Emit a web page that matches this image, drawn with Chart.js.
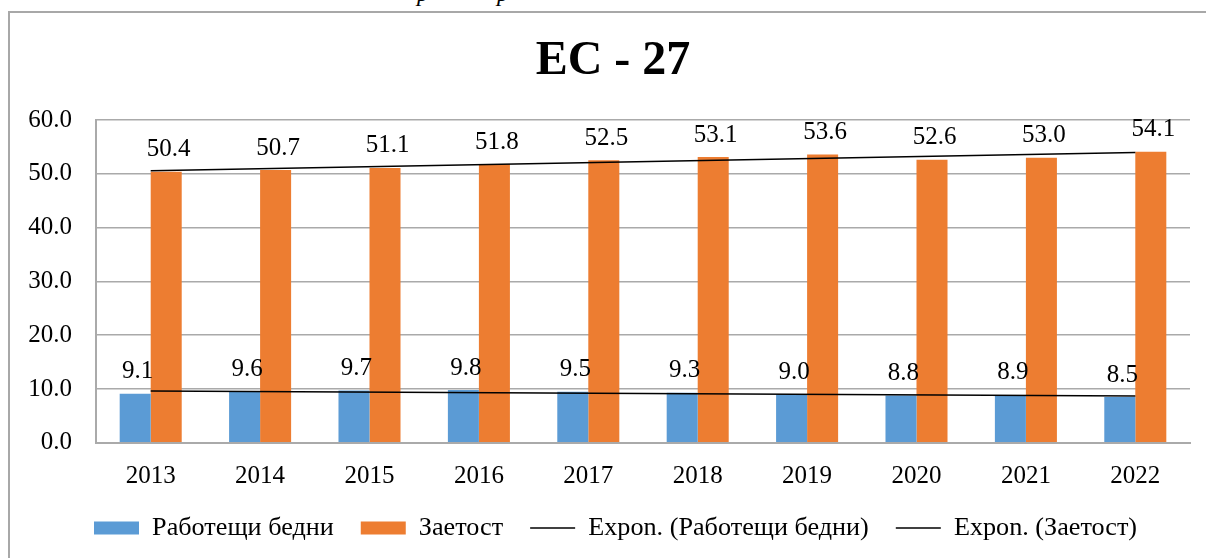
<!DOCTYPE html>
<html><head><meta charset="utf-8">
<script src="https://cdn.jsdelivr.net/npm/chart.js@4/dist/chart.umd.min.js"></script>
<style>
html,body{margin:0;padding:0;background:#fff;width:1206px;height:558px;overflow:hidden;}
#frame{position:absolute;left:8px;top:11px;width:1400px;height:700px;border-top:2px solid #a8a8a8;border-left:2px solid #a8a8a8;}
.cut{position:absolute;font-family:'Liberation Serif','Times New Roman',serif;font-style:italic;font-size:24px;line-height:24px;top:-19px;color:#000;}
#wrap{position:absolute;left:0;top:0;width:1206px;height:558px;}
</style></head><body>
<div id="frame"></div>
<span class="cut" style="left:417px">р</span><span class="cut" style="left:497px">р</span>
<div id="wrap"><canvas id="c" width="1206" height="558"></canvas></div>
<script>
// ---- data ----
const years = ['2013','2014','2015','2016','2017','2018','2019','2020','2021','2022'];
const poorWorkers = [9.1, 9.6, 9.7, 9.8, 9.5, 9.3, 9.0, 8.8, 8.9, 8.5];
const employment = [50.4, 50.7, 51.1, 51.8, 52.5, 53.1, 53.6, 52.6, 53.0, 54.1];
// trend lines at first and last category
const poorTrend = [9.63, null, null, null, null, null, null, null, null, 8.70];
const employmentTrend = [50.55, null, null, null, null, null, null, null, null, 53.98];
const seriesNames = ['Работещи бедни', 'Заетост', 'Expon. (Работещи бедни)', 'Expon. (Заетост)'];
const chartTitle = 'ЕС - 27';
const yMin = 0, yMax = 60, yStep = 10;

const FONT = "'Liberation Serif', 'Times New Roman', serif";
const FS = 25;
const LFS = 26.2;
const GRID = '#aaaaaa';
const BLUE = '#5B9BD5', ORANGE = '#ED7D31';

const valueLabels = {
  id: 'valueLabels',
  afterDatasetsDraw(chart) {
    const ctx = chart.ctx;
    ctx.save();
    ctx.font = FS + 'px ' + FONT;
    ctx.fillStyle = '#000';
    ctx.textAlign = 'center';
    ctx.textBaseline = 'alphabetic';
    [0, 1].forEach(di => {
      const meta = chart.getDatasetMeta(di);
      const vals = chart.data.datasets[di].data;
      meta.data.forEach((el, i) => {
        ctx.fillText(vals[i].toFixed(1), el.x + 2.5, el.y - 15.5);
      });
    });
    ctx.restore();
  }
};

// nudge the title and legend boxes sideways to match the original placement
const boxNudge = {
  id: 'boxNudge',
  afterLayout(chart) {
    const t = chart.titleBlock;
    if (t) { t.left = 36; }
    const L = chart.legend;
    if (L) { L.left = 67; L.right = 1206; }
  }
};

new Chart(document.getElementById('c'), {
  type: 'bar',
  data: {
    labels: years,
    datasets: [
      { label: seriesNames[0], data: poorWorkers, backgroundColor: BLUE, categoryPercentage: 0.567, barPercentage: 1.0, order: 0 },
      { label: seriesNames[1], data: employment, backgroundColor: ORANGE, categoryPercentage: 0.567, barPercentage: 1.0, order: 0 },
      { type: 'line', label: seriesNames[2], data: poorTrend, borderColor: '#000', backgroundColor: '#000', borderWidth: 1.5, pointRadius: 0, spanGaps: true, order: -1 },
      { type: 'line', label: seriesNames[3], data: employmentTrend, borderColor: '#000', backgroundColor: '#000', borderWidth: 1.5, pointRadius: 0, spanGaps: true, order: -1 }
    ]
  },
  options: {
    responsive: false,
    animation: false,
    layout: { padding: { left: 0, right: 16, top: 0, bottom: 7 } },
    plugins: {
      tooltip: { enabled: false },
      title: {
        display: true, text: chartTitle, color: '#000',
        font: { family: FONT, size: 48, weight: 'bold' },
        padding: { top: 32.5, bottom: 29.9 }
      },
      legend: {
        position: 'bottom',
        align: 'start',
        labels: {
          color: '#000',
          font: { family: FONT, size: LFS },
          usePointStyle: true,
          pointStyleWidth: 45,
          boxHeight: 13,
          padding: 27,
          sort: (a, b) => a.datasetIndex - b.datasetIndex,
          generateLabels(chart) {
            const items = Chart.defaults.plugins.legend.labels.generateLabels(chart);
            items.forEach(it => {
              if (it.datasetIndex < 2) {
                it.pointStyle = 'rect';
                it.lineWidth = 0;
                it.strokeStyle = it.fillStyle;
              } else {
                it.pointStyle = 'line';
                it.strokeStyle = '#000';
                it.lineWidth = 1.5;
              }
            });
            return items;
          }
        }
      }
    },
    scales: {
      x: {
        grid: { display: false, drawTicks: false },
        border: { display: true, color: GRID, width: 2 },
        ticks: { color: '#000', font: { family: FONT, size: FS }, padding: 19, maxRotation: 0 },
        afterFit(s) { s.height = 45; }
      },
      y: {
        min: yMin, max: yMax,
        grid: { color: GRID, lineWidth: 1.5, drawTicks: false },
        border: { display: true, color: GRID, width: 2 },
        ticks: { stepSize: yStep, color: '#000', font: { family: FONT, size: FS }, padding: 24, callback: v => v.toFixed(1) },
        afterFit(s) { s.width = 96; }
      }
    }
  },
  plugins: [valueLabels, boxNudge]
});
</script>
</body></html>
